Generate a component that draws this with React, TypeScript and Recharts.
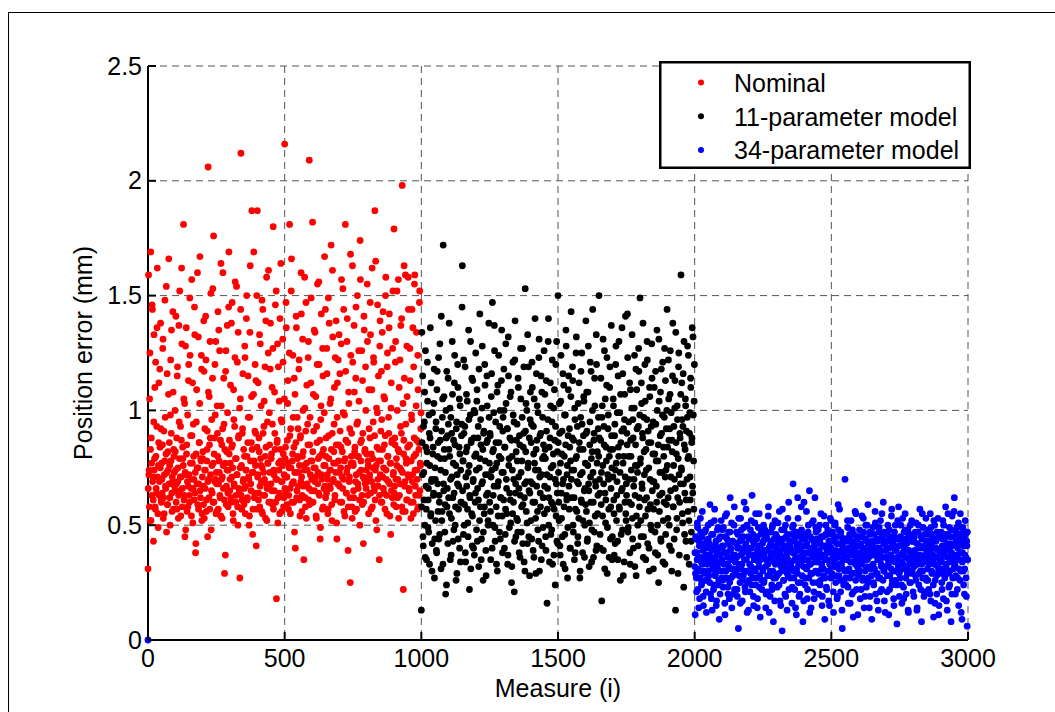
import { CartesianGrid, Label, Legend, Scatter, ScatterChart, XAxis, YAxis } from 'recharts';

const FONT = '"Liberation Sans", Arial, Helvetica, sans-serif';

// measure index step between readings of one list; the "odd" lists sit one measure later
const STEP = 2;
const X_TICKS = [0, 500, 1000, 1500, 2000, 2500, 3000];
const Y_TICKS = [0, 0.5, 1, 1.5, 2, 2.5];

const SERIES_NAMES = ['Nominal', '11-parameter model', '34-parameter model'];
const SERIES_COLORS = ['#ff0000', '#000000', '#0000ff'];
const SERIES_START = [0, 1000, 2000];

// position error (mm); even measures 0..998
const NOMINAL_Y = [
  0.31, 1.59, 0.74, 1.05, 0.52, 1.69, 0.88, 0.63, 1.44, 0.71, 0.43, 1.33, 0.79, 0.58, 1.21, 0.66, 0.93, 1.62, 0.55, 0.76, 1.12, 0.69, 0.84, 1.38, 0.61,
  0.77, 0.64, 1.27, 0.53, 0.91, 0.72, 1.48, 0.67, 0.81, 0.47, 1.16, 0.59, 0.74, 1.66, 0.86, 0.62, 0.98, 0.78, 1.35, 0.56, 0.69, 1.08, 0.83, 0.73, 0.65,
  0.82, 1.41, 0.68, 0.57, 1.19, 0.75, 0.63, 0.95, 1.52, 0.71, 0.54, 0.87, 1.29, 0.66, 0.79, 1.81, 0.61, 1.03, 0.73, 0.48, 1.36, 0.85, 0.69, 0.58, 1.13,
  0.72, 0.6, 1.24, 0.89, 0.66, 1.57, 0.77, 0.51, 0.94, 0.7, 1.45, 0.64, 0.38, 0.81, 1.09, 0.75, 0.59, 1.32, 0.68, 0.86, 1.67, 0.62, 0.78, 1.18, 0.55,
  0.79, 0.67, 1.39, 0.53, 0.92, 0.74, 1.22, 0.61, 0.83, 0.45, 2.06, 0.7, 1.06, 0.57, 0.88, 1.51, 0.65, 0.76, 1.14, 0.6, 1.76, 0.81, 0.69, 0.98, 1.3,
  0.73, 0.56, 0.9, 1.43, 0.68, 0.78, 1.26, 0.62, 0.54, 1.02, 0.85, 0.71, 1.6, 0.66, 0.94, 0.29, 0.77, 1.17, 0.59, 0.82, 1.37, 0.64, 0.74, 1.69, 0.87,
  0.7, 1.11, 0.6, 0.84, 1.47, 0.75, 0.52, 0.96, 0.67, 1.23, 0.79, 0.63, 1.54, 0.72, 0.58, 1.34, 0.89, 0.65, 0.27, 1.05, 2.12, 0.76, 0.61, 0.92, 0.69,
  0.83, 0.66, 1.28, 0.55, 0.74, 1.4, 0.8, 0.62, 1.15, 0.71, 0.5, 0.97, 1.63, 0.68, 0.86, 1.87, 0.73, 0.57, 1.07, 0.78, 0.64, 1.2, 0.9, 0.41, 1.5,
  1.87, 0.72, 0.61, 0.88, 1.33, 0.67, 0.79, 1.02, 0.56, 0.75, 1.44, 0.63, 0.93, 0.7, 1.19, 0.53, 0.84, 1.58, 0.66, 0.77, 1.25, 0.6, 0.99, 0.73, 1.38,
  0.68, 0.81, 1.1, 0.59, 1.8, 0.74, 0.65, 0.9, 1.46, 0.7, 0.18, 0.86, 1.29, 0.62, 0.77, 1.04, 0.55, 0.83, 1.64, 0.69, 0.95, 0.76, 1.21, 0.58, 0.72,
  2.16, 0.79, 0.64, 1.36, 0.71, 0.87, 1.13, 0.57, 0.75, 1.81, 0.66, 0.92, 1.52, 0.6, 0.78, 1.24, 0.69, 0.84, 0.47, 1.07, 0.73, 1.41, 0.62, 0.97, 0.8,
  0.67, 1.18, 0.76, 0.54, 0.89, 1.6, 0.71, 0.63, 1.31, 0.82, 0.35, 0.74, 1.01, 0.58, 1.47, 0.77, 0.68, 0.94, 1.23, 0.61, 2.09, 0.85, 0.72, 1.12, 0.65,
  0.78, 1.82, 0.6, 0.91, 1.35, 0.69, 0.75, 1.06, 0.53, 0.86, 1.55, 0.73, 0.64, 1.2, 0.8, 0.44, 0.96, 1.42, 0.7, 0.57, 1.15, 0.83, 0.66, 1.67, 0.76,
  0.62, 0.88, 1.27, 0.72, 0.55, 1.49, 0.79, 0.67, 1.03, 0.74, 1.72, 0.59, 0.9, 1.32, 0.7, 0.82, 1.1, 0.63, 0.77, 1.39, 0.51, 0.97, 0.68, 1.22, 0.85,
  0.73, 1.16, 0.6, 0.84, 1.57, 0.71, 0.66, 0.99, 1.44, 0.78, 0.54, 1.81, 0.87, 0.64, 1.3, 0.75, 0.39, 1.08, 0.69, 0.92, 0.25, 1.24, 0.8, 0.58, 1.63,
  0.77, 0.65, 1.37, 0.82, 0.56, 1.14, 0.72, 0.94, 1.5, 0.68, 0.8, 1.04, 0.61, 1.74, 0.86, 0.74, 1.26, 0.59, 0.9, 0.42, 1.41, 0.7, 0.83, 1.19, 0.66,
  0.81, 1.55, 0.63, 0.76, 1.09, 0.71, 0.88, 1.33, 0.57, 0.69, 1.62, 0.79, 0.95, 1.21, 0.65, 1.87, 0.74, 0.52, 1.01, 0.84, 1.46, 0.67, 0.78, 0.35, 1.28,
  0.72, 0.91, 1.17, 0.6, 0.83, 1.43, 0.75, 0.64, 1.05, 0.89, 1.58, 0.7, 0.55, 1.25, 0.8, 0.97, 1.36, 0.68, 0.77, 0.46, 1.12, 0.86, 0.62, 1.52, 0.73,
  1.79, 0.67, 0.85, 1.3, 0.58, 0.76, 1.0, 0.7, 1.57, 0.82, 0.63, 1.22, 0.93, 0.74, 1.4, 1.98, 0.56, 0.22, 0.87, 1.14, 0.69, 1.59, 0.79, 0.61, 1.06,
  0.84, 1.58, 0.71, 0.65, 1.27, 0.78, 0.53, 0.98, 1.44, 0.72, 0.6, 1.19, 0.88, 1.59, 0.67, 0.81, 1.34, 0.74, 0.57, 1.09, 0.86, 0.63, 1.52, 0.77, 0.92,
];

// odd measures 1..999
const NOMINAL_Y_ODD = [
  0.66, 0.72, 0.58, 1.25, 0.83, 0.52, 0.77, 1.46, 0.69, 0.61, 0.95, 0.74, 1.1, 0.57, 0.8, 0.64, 1.36, 0.71, 0.49, 0.86, 0.63, 1.18, 0.75, 0.92, 0.6,
  0.7, 0.85, 1.31, 0.62, 0.55, 0.78, 0.97, 0.66, 1.54, 0.73, 0.59, 0.82, 1.07, 0.68, 0.76, 0.5, 1.22, 0.9, 0.64, 0.71, 1.43, 0.57, 0.8, 0.67, 1.0,
  0.74, 0.6, 0.88, 1.15, 0.69, 0.53, 1.37, 0.79, 0.65, 0.93, 0.71, 1.62, 0.58, 0.84, 0.76, 1.05, 0.63, 0.45, 1.28, 0.72, 0.81, 0.56, 0.98, 0.67, 1.2,
  0.63, 1.49, 0.77, 0.7, 0.54, 0.89, 1.12, 0.66, 0.8, 0.61, 1.33, 0.73, 0.42, 0.95, 0.68, 1.6, 0.75, 0.57, 0.86, 1.03, 0.65, 0.79, 1.24, 0.52, 0.71,
  0.82, 0.59, 1.17, 0.74, 0.66, 1.41, 0.56, 0.78, 0.91, 0.69, 1.08, 0.62, 0.85, 1.3, 0.72, 0.48, 0.96, 0.64, 1.53, 0.77, 0.6, 0.88, 1.2, 0.7, 0.55,
  0.68, 1.02, 0.8, 0.57, 1.35, 0.73, 0.63, 0.87, 1.64, 0.7, 0.53, 0.92, 0.76, 1.14, 0.61, 0.83, 0.37, 1.26, 0.67, 0.74, 0.99, 0.58, 1.45, 0.81, 0.65,
  0.77, 0.62, 1.38, 0.71, 0.85, 0.55, 1.09, 0.68, 0.93, 1.56, 0.6, 0.79, 0.72, 1.21, 0.5, 0.88, 0.66, 1.01, 0.75, 1.44, 0.63, 0.57, 0.9, 1.16, 0.7,
  0.59, 0.8, 1.23, 0.67, 0.74, 1.5, 0.61, 0.86, 0.97, 0.7, 0.54, 1.34, 0.78, 0.65, 1.06, 0.83, 0.46, 0.73, 1.69, 0.62, 0.91, 0.76, 1.13, 0.57, 0.84,
  0.71, 1.12, 0.64, 0.82, 0.58, 1.29, 0.76, 0.69, 1.48, 0.55, 0.9, 0.73, 1.04, 0.63, 0.8, 1.39, 0.68, 0.52, 0.95, 0.77, 1.61, 0.66, 0.85, 1.18, 0.6,
  0.79, 0.65, 0.94, 1.27, 0.57, 0.72, 1.08, 0.83, 0.6, 1.52, 0.7, 0.87, 0.51, 1.19, 0.74, 0.64, 1.4, 0.78, 0.96, 0.56, 0.69, 1.31, 0.81, 0.62, 1.05,
  0.66, 0.84, 1.47, 0.71, 0.59, 1.03, 0.77, 0.63, 1.25, 0.89, 0.55, 0.75, 1.66, 0.68, 0.81, 0.97, 0.6, 1.14, 0.73, 0.4, 0.86, 1.36, 0.65, 0.79, 0.92,
  0.73, 1.22, 0.61, 0.88, 0.69, 1.42, 0.56, 0.8, 1.0, 0.67, 0.76, 1.58, 0.62, 0.91, 0.53, 1.11, 0.74, 0.85, 1.3, 0.66, 0.59, 0.97, 0.78, 1.49, 0.7,
  0.6, 0.82, 1.07, 0.75, 0.65, 1.34, 0.71, 0.54, 0.93, 1.2, 0.68, 0.79, 1.56, 0.63, 0.87, 0.49, 1.02, 0.72, 0.81, 1.27, 0.58, 0.76, 0.99, 0.67, 1.44,
  0.8, 0.64, 1.16, 0.7, 0.57, 0.89, 1.38, 0.74, 0.66, 1.05, 0.83, 0.52, 1.61, 0.69, 0.77, 0.94, 0.61, 1.23, 0.73, 0.85, 0.44, 1.12, 0.68, 0.78, 1.33,
  0.67, 0.91, 0.75, 1.29, 0.6, 0.82, 1.53, 0.7, 0.56, 0.98, 0.79, 1.17, 0.64, 0.73, 1.4, 0.86, 0.58, 1.03, 0.71, 0.62, 1.68, 0.77, 0.9, 0.53, 1.21,
  0.76, 0.62, 1.08, 0.84, 0.69, 1.45, 0.57, 0.8, 0.95, 0.66, 1.26, 0.73, 0.5, 1.57, 0.78, 0.87, 0.63, 1.13, 0.71, 0.6, 1.35, 0.82, 0.68, 1.0, 0.74,
  0.69, 1.3, 0.78, 0.55, 0.92, 0.72, 1.47, 0.64, 0.81, 1.09, 0.58, 0.75, 1.23, 0.67, 0.89, 0.61, 1.65, 0.76, 0.48, 0.99, 0.7, 1.15, 0.83, 0.63, 1.39,
  0.78, 0.6, 0.96, 1.34, 0.71, 0.66, 1.06, 0.85, 0.57, 1.5, 0.74, 0.63, 1.19, 0.8, 0.69, 0.9, 1.42, 0.54, 0.77, 1.01, 0.65, 0.87, 1.27, 0.72, 0.59,
  0.64, 0.88, 1.21, 0.7, 0.79, 1.52, 0.62, 0.83, 0.53, 1.1, 0.75, 0.68, 1.37, 0.9, 0.58, 0.73, 1.03, 0.81, 1.63, 0.67, 0.56, 0.94, 0.77, 1.28, 0.61,
  0.72, 1.44, 0.66, 0.85, 1.13, 0.6, 0.78, 0.96, 0.69, 1.36, 0.55, 0.8, 1.55, 0.74, 0.63, 1.02, 0.87, 0.7, 1.24, 0.58, 0.83, 1.47, 0.65, 0.76, 0.99,
];

// even measures 1000..1998
const MODEL11_Y = [
  0.13, 1.34, 0.72, 0.45, 0.93, 0.61, 1.08, 0.36, 0.84, 0.57, 0.77, 1.21, 0.49, 0.66, 0.98, 0.33, 0.88, 0.54, 1.12, 0.7, 0.42, 0.81, 0.63, 1.03, 0.27,
  0.75, 0.52, 0.95, 0.38, 1.17, 0.68, 0.86, 0.44, 0.6, 1.29, 0.79, 0.31, 0.91, 0.56, 1.05, 1.72, 0.65, 0.83, 0.47, 0.73, 1.0, 0.24, 0.58, 0.89, 1.14,
  0.62, 1.38, 0.8, 0.35, 0.97, 0.53, 0.71, 1.07, 0.43, 0.87, 0.64, 1.24, 0.5, 0.76, 0.92, 0.29, 0.68, 1.1, 0.57, 0.84, 0.4, 1.02, 0.74, 0.6, 0.94,
  1.63, 0.78, 0.46, 0.9, 0.59, 1.19, 0.34, 0.82, 0.67, 1.04, 0.51, 0.73, 0.96, 0.22, 0.62, 1.3, 0.86, 0.55, 0.41, 1.13, 0.7, 0.88, 0.37, 0.99, 0.64,
  0.81, 0.48, 1.09, 0.66, 0.93, 0.32, 0.75, 1.42, 0.58, 0.85, 0.44, 1.01, 0.69, 0.26, 0.9, 0.55, 1.2, 0.78, 0.39, 0.63, 1.15, 0.87, 0.52, 0.72, 0.97,
  0.6, 0.89, 0.35, 1.06, 0.74, 1.47, 0.5, 0.83, 0.67, 1.26, 0.43, 0.95, 0.58, 0.77, 0.3, 1.11, 0.69, 0.86, 0.47, 1.0, 0.62, 0.79, 1.35, 0.54, 0.91,
  0.73, 1.18, 0.4, 0.84, 0.57, 1.03, 0.66, 0.92, 0.33, 1.32, 0.76, 0.49, 0.88, 0.61, 1.08, 0.25, 0.8, 0.55, 0.98, 0.7, 0.21, 1.22, 0.64, 0.45, 0.87,
  0.94, 0.52, 1.14, 0.71, 0.38, 0.85, 0.63, 1.05, 0.47, 0.78, 1.27, 0.59, 0.9, 0.34, 0.68, 1.53, 0.82, 0.56, 1.0, 0.42, 0.75, 1.19, 0.65, 0.28, 0.96,
  0.69, 0.86, 0.44, 1.1, 0.6, 0.93, 0.36, 0.77, 1.4, 0.53, 0.83, 0.67, 1.02, 0.48, 0.74, 1.23, 0.3, 0.89, 0.58, 1.15, 0.72, 0.41, 0.97, 0.62, 0.8,
  0.55, 1.07, 0.79, 0.39, 0.91, 0.16, 0.66, 1.3, 0.5, 0.84, 0.71, 1.12, 0.46, 0.6, 0.95, 0.33, 0.76, 1.01, 0.57, 0.87, 0.24, 1.2, 0.68, 0.43, 0.82,
  1.5, 0.73, 0.52, 0.9, 0.37, 1.04, 0.64, 0.81, 0.45, 1.16, 0.7, 0.58, 0.98, 0.31, 0.85, 1.28, 0.61, 0.76, 0.49, 1.09, 0.67, 0.92, 0.4, 0.78, 1.43,
  0.62, 0.88, 1.13, 0.47, 0.74, 0.35, 0.96, 0.57, 1.25, 0.8, 0.69, 0.42, 1.03, 0.53, 0.86, 0.27, 0.72, 1.17, 0.6, 0.94, 0.38, 0.83, 1.06, 0.65, 0.5,
  0.77, 1.39, 0.56, 0.91, 0.44, 1.08, 0.68, 0.32, 0.85, 1.21, 0.6, 0.79, 0.48, 1.0, 0.73, 0.36, 0.9, 1.14, 0.54, 0.67, 1.33, 0.41, 0.82, 0.63, 0.97,
  1.5, 0.7, 0.46, 0.87, 0.59, 0.17, 1.02, 0.76, 0.39, 0.93, 1.26, 0.64, 0.51, 0.84, 1.11, 0.29, 0.72, 0.98, 0.57, 0.8, 1.19, 0.44, 0.66, 0.89, 0.35,
  0.83, 1.05, 0.61, 0.37, 0.94, 0.74, 1.28, 0.52, 0.69, 0.43, 1.15, 0.8, 0.58, 0.99, 0.26, 0.86, 0.65, 1.36, 0.48, 0.77, 0.92, 0.34, 1.07, 0.71, 0.55,
  0.68, 0.9, 1.42, 0.47, 0.8, 0.6, 1.12, 0.33, 0.87, 0.74, 1.01, 0.53, 0.96, 0.4, 0.7, 1.24, 0.63, 0.85, 0.28, 1.09, 0.76, 0.5, 0.93, 1.17, 0.58,
  1.49, 0.79, 0.45, 1.03, 0.66, 0.88, 0.36, 0.97, 0.72, 1.2, 0.54, 0.83, 0.62, 1.3, 0.42, 0.91, 0.75, 0.3, 1.06, 0.59, 0.86, 0.48, 1.14, 0.69, 0.95,
  0.57, 1.1, 0.81, 0.38, 0.94, 0.67, 1.35, 0.5, 0.78, 0.25, 1.04, 0.63, 0.89, 0.44, 1.18, 0.73, 0.98, 0.34, 0.84, 0.6, 1.27, 0.71, 0.46, 0.92, 1.0,
  0.76, 0.53, 1.22, 0.87, 0.41, 1.07, 0.65, 0.99, 0.3, 0.82, 1.38, 0.58, 0.93, 0.7, 1.13, 0.13, 0.86, 0.48, 1.02, 0.62, 0.79, 1.25, 0.37, 0.9, 0.68,
  1.59, 0.74, 0.96, 0.51, 1.16, 0.23, 0.85, 0.64, 1.05, 0.43, 0.91, 0.7, 1.28, 0.56, 0.8, 0.33, 0.99, 0.61, 1.1, 0.47, 0.88, 0.67, 1.32, 0.78, 1.04,
];

// odd measures 1001..1999
const MODEL11_Y_ODD = [
  0.58, 0.86, 1.15, 0.41, 0.73, 0.95, 0.5, 1.26, 0.67, 0.35, 0.82, 1.04, 0.61, 0.47, 0.9, 0.76, 1.36, 0.55, 0.69, 0.3, 0.99, 0.84, 0.64, 1.18, 0.44,
  0.7, 0.92, 0.39, 1.09, 0.8, 0.56, 1.23, 0.63, 0.46, 0.87, 0.74, 1.41, 0.52, 0.97, 0.33, 0.68, 1.06, 0.79, 0.59, 0.2, 0.88, 1.17, 0.66, 0.42, 0.94,
  0.83, 0.55, 1.01, 0.7, 0.37, 0.9, 1.3, 0.62, 0.77, 0.48, 1.12, 0.85, 0.58, 0.26, 0.95, 0.72, 1.2, 0.44, 0.67, 1.05, 0.81, 0.34, 0.6, 0.89, 1.45,
  0.65, 0.78, 1.22, 0.5, 0.93, 0.38, 0.71, 1.07, 0.84, 0.57, 0.45, 1.35, 0.76, 0.63, 0.98, 0.31, 0.87, 1.14, 0.54, 0.69, 0.4, 1.0, 0.8, 0.6, 1.25,
  0.74, 1.04, 0.43, 0.88, 0.61, 1.18, 0.52, 0.79, 0.96, 0.35, 0.68, 1.28, 0.83, 0.47, 0.91, 0.58, 1.11, 0.72, 0.28, 0.86, 1.02, 0.64, 0.5, 1.38, 0.77,
  0.9, 0.56, 0.71, 1.16, 0.4, 0.82, 0.63, 0.99, 1.37, 0.49, 0.75, 0.86, 0.33, 1.08, 0.67, 0.54, 1.24, 0.8, 0.93, 0.44, 0.62, 1.13, 0.73, 0.38, 0.97,
  0.61, 1.0, 0.84, 0.46, 1.29, 0.7, 0.55, 0.92, 0.37, 1.15, 0.79, 0.64, 1.06, 0.51, 0.87, 0.32, 0.74, 1.21, 0.6, 0.95, 0.43, 1.39, 0.68, 0.82, 0.53,
  0.78, 0.47, 1.1, 0.66, 0.89, 0.36, 1.27, 0.73, 0.58, 0.97, 0.42, 0.84, 1.19, 0.62, 0.3, 0.91, 1.03, 0.69, 0.51, 1.33, 0.77, 0.45, 0.88, 0.64, 1.08,
  0.52, 0.94, 1.21, 0.68, 0.39, 0.81, 1.05, 0.6, 0.74, 0.29, 1.16, 0.87, 0.56, 0.99, 0.43, 1.31, 0.71, 0.64, 0.9, 0.35, 1.08, 0.79, 0.49, 0.85, 1.26,
  0.67, 0.83, 0.45, 1.13, 0.72, 0.57, 0.96, 1.4, 0.62, 0.34, 0.88, 1.02, 0.75, 0.48, 1.22, 0.59, 0.81, 0.37, 1.09, 0.7, 0.93, 0.54, 1.3, 0.64, 0.42,
  0.86, 0.6, 1.03, 0.41, 0.77, 1.24, 0.53, 0.91, 0.68, 0.33, 1.11, 0.8, 0.46, 0.98, 1.35, 0.63, 0.72, 0.27, 0.89, 1.15, 0.57, 0.84, 0.4, 1.06, 0.7,
  0.74, 1.19, 0.5, 0.87, 0.62, 1.01, 0.38, 0.79, 1.32, 0.56, 0.93, 0.45, 0.68, 1.12, 0.83, 0.3, 0.97, 0.61, 1.25, 0.73, 0.52, 0.89, 1.04, 0.36, 0.66,
  0.59, 0.9, 1.08, 0.43, 0.76, 1.28, 0.65, 0.51, 0.95, 0.71, 1.17, 0.34, 0.82, 1.44, 0.6, 0.87, 0.47, 1.02, 0.69, 0.39, 1.2, 0.77, 0.55, 0.92, 0.8,
  0.88, 0.64, 0.4, 1.14, 0.73, 0.97, 0.54, 1.31, 0.68, 0.85, 0.31, 1.05, 0.61, 0.78, 1.23, 0.49, 0.92, 0.7, 0.36, 1.1, 0.83, 0.58, 1.37, 0.75, 0.45,
  0.71, 1.02, 0.55, 0.89, 0.42, 1.2, 0.77, 0.63, 0.99, 0.35, 0.84, 1.3, 0.57, 0.73, 1.07, 0.46, 0.91, 0.66, 1.16, 0.28, 0.8, 0.96, 0.6, 1.41, 0.52,
  0.63, 0.85, 1.23, 0.49, 0.95, 0.7, 0.38, 1.09, 0.8, 0.59, 1.33, 0.44, 0.88, 0.67, 1.01, 0.32, 0.76, 1.18, 0.54, 0.92, 0.73, 0.41, 1.27, 0.62, 0.98,
  0.77, 0.52, 1.12, 0.68, 0.9, 1.38, 0.45, 0.82, 0.61, 1.04, 0.35, 0.74, 0.96, 1.22, 0.57, 0.86, 0.4, 1.1, 0.7, 0.5, 0.93, 1.29, 0.65, 0.81, 0.31,
  0.69, 0.94, 0.47, 1.17, 0.78, 0.6, 1.0, 0.37, 0.85, 1.31, 0.56, 0.73, 1.08, 0.43, 0.9, 0.64, 1.21, 0.52, 0.8, 0.97, 0.33, 1.13, 0.74, 0.59, 1.44,
  0.84, 0.62, 1.05, 0.5, 0.92, 1.26, 0.71, 0.39, 0.87, 1.15, 0.58, 0.76, 0.44, 1.01, 0.66, 1.34, 0.81, 0.53, 0.96, 0.29, 1.19, 0.72, 0.6, 0.88, 1.07,
  0.75, 1.12, 0.55, 0.93, 0.68, 1.3, 0.46, 0.83, 1.02, 0.61, 0.36, 0.97, 0.79, 1.24, 0.52, 0.9, 0.71, 1.14, 0.43, 0.86, 1.36, 0.64, 0.98, 0.57, 1.2,
];

// even measures 2000..2998
const MODEL34_Y = [
  0.32, 0.11, 0.45, 0.27, 0.38, 0.51, 0.22, 0.36, 0.43, 0.18, 0.3, 0.47, 0.34, 0.25, 0.56, 0.39, 0.15, 0.42, 0.29, 0.35, 0.48, 0.21, 0.4, 0.33, 0.26,
  0.44, 0.28, 0.37, 0.59, 0.2, 0.34, 0.46, 0.13, 0.31, 0.41, 0.24, 0.52, 0.36, 0.29, 0.43, 0.17, 0.39, 0.33, 0.49, 0.26, 0.09, 0.37, 0.45, 0.3, 0.4,
  0.35, 0.48, 0.23, 0.41, 0.3, 0.16, 0.54, 0.38, 0.27, 0.44, 0.33, 0.2, 0.47, 0.36, 0.25, 0.62, 0.4, 0.31, 0.14, 0.43, 0.28, 0.37, 0.5, 0.22, 0.34,
  0.29, 0.42, 0.36, 0.19, 0.46, 0.05, 0.33, 0.4, 0.25, 0.53, 0.31, 0.44, 0.17, 0.38, 0.28, 0.49, 0.35, 0.23, 0.41, 0.57, 0.3, 0.12, 0.39, 0.45, 0.26,
  0.37, 0.21, 0.48, 0.32, 0.4, 0.63, 0.27, 0.43, 0.15, 0.35, 0.51, 0.3, 0.24, 0.45, 0.38, 0.18, 0.41, 0.34, 0.55, 0.28, 0.1, 0.46, 0.36, 0.22, 0.42,
  0.31, 0.5, 0.26, 0.39, 0.44, 0.14, 0.35, 0.47, 0.21, 0.33, 0.58, 0.4, 0.28, 0.19, 0.43, 0.37, 0.24, 0.49, 0.3, 0.08, 0.41, 0.34, 0.52, 0.27, 0.38,
  0.45, 0.23, 0.36, 0.42, 0.29, 0.56, 0.17, 0.39, 0.32, 0.48, 0.04, 0.35, 0.44, 0.26, 0.4, 0.2, 0.5, 0.31, 0.37, 0.13, 0.46, 0.28, 0.6, 0.34, 0.41,
  0.27, 0.43, 0.34, 0.16, 0.49, 0.68, 0.3, 0.38, 0.22, 0.45, 0.36, 0.11, 0.41, 0.29, 0.53, 0.33, 0.19, 0.47, 0.39, 0.25, 0.58, 0.35, 0.44, 0.08, 0.32,
  0.6, 0.38, 0.24, 0.46, 0.31, 0.42, 0.18, 0.35, 0.5, 0.27, 0.65, 0.4, 0.33, 0.14, 0.44, 0.29, 0.37, 0.52, 0.21, 0.41, 0.62, 0.3, 0.47, 0.36, 0.25,
  0.34, 0.48, 0.2, 0.39, 0.43, 0.26, 0.55, 0.31, 0.15, 0.37, 0.45, 0.28, 0.41, 0.09, 0.35, 0.5, 0.23, 0.38, 0.46, 0.3, 0.17, 0.42, 0.33, 0.53, 0.27,
  0.4, 0.29, 0.47, 0.35, 0.12, 0.44, 0.32, 0.51, 0.25, 0.38, 0.42, 0.19, 0.36, 0.48, 0.28, 0.57, 0.33, 0.21, 0.45, 0.39, 0.05, 0.31, 0.43, 0.26, 0.37,
  0.7, 0.36, 0.24, 0.43, 0.3, 0.49, 0.16, 0.39, 0.45, 0.27, 0.34, 0.52, 0.41, 0.2, 0.37, 0.1, 0.46, 0.29, 0.4, 0.33, 0.55, 0.22, 0.44, 0.35, 0.31,
  0.28, 0.45, 0.38, 0.18, 0.42, 0.33, 0.54, 0.26, 0.4, 0.47, 0.14, 0.36, 0.3, 0.5, 0.23, 0.43, 0.35, 0.59, 0.27, 0.39, 0.46, 0.19, 0.32, 0.41, 0.09,
  0.37, 0.49, 0.25, 0.43, 0.31, 0.56, 0.2, 0.38, 0.44, 0.29, 0.35, 0.13, 0.47, 0.4, 0.27, 0.52, 0.33, 0.22, 0.45, 0.36, 0.6, 0.3, 0.17, 0.42, 0.39,
  0.32, 0.46, 0.21, 0.4, 0.35, 0.11, 0.48, 0.28, 0.43, 0.37, 0.54, 0.24, 0.41, 0.3, 0.18, 0.45, 0.34, 0.5, 0.26, 0.39, 0.07, 0.44, 0.36, 0.58, 0.29,
  0.41, 0.27, 0.5, 0.34, 0.16, 0.44, 0.38, 0.23, 0.47, 0.31, 0.55, 0.36, 0.2, 0.42, 0.29, 0.48, 0.12, 0.39, 0.33, 0.46, 0.25, 0.37, 0.52, 0.3, 0.43,
  0.35, 0.19, 0.45, 0.38, 0.28, 0.51, 0.42, 0.14, 0.33, 0.47, 0.24, 0.4, 0.57, 0.3, 0.36, 0.08, 0.44, 0.27, 0.49, 0.34, 0.21, 0.41, 0.37, 0.53, 0.26,
  0.43, 0.31, 0.48, 0.22, 0.39, 0.35, 0.55, 0.17, 0.42, 0.29, 0.46, 0.37, 0.1, 0.33, 0.5, 0.26, 0.4, 0.44, 0.2, 0.36, 0.53, 0.3, 0.15, 0.45, 0.38,
  0.34, 0.47, 0.25, 0.41, 0.52, 0.18, 0.37, 0.44, 0.29, 0.58, 0.32, 0.4, 0.13, 0.46, 0.36, 0.23, 0.49, 0.3, 0.42, 0.08, 0.38, 0.54, 0.27, 0.35, 0.45,
  0.62, 0.33, 0.2, 0.43, 0.37, 0.49, 0.27, 0.4, 0.15, 0.46, 0.35, 0.55, 0.3, 0.42, 0.09, 0.38, 0.48, 0.24, 0.44, 0.31, 0.52, 0.36, 0.19, 0.41, 0.47,
];

// odd measures 2001..2999
const MODEL34_Y_ODD = [
  0.38, 0.29, 0.44, 0.21, 0.35, 0.49, 0.31, 0.14, 0.41, 0.27, 0.53, 0.36, 0.24, 0.45, 0.33, 0.19, 0.4, 0.3, 0.47, 0.26, 0.37, 0.12, 0.43, 0.34, 0.5,
  0.3, 0.42, 0.25, 0.36, 0.51, 0.18, 0.39, 0.33, 0.46, 0.22, 0.35, 0.57, 0.28, 0.41, 0.15, 0.37, 0.48, 0.31, 0.24, 0.44, 0.34, 0.2, 0.4, 0.52, 0.27,
  0.41, 0.26, 0.49, 0.33, 0.38, 0.11, 0.45, 0.3, 0.55, 0.36, 0.23, 0.42, 0.32, 0.18, 0.47, 0.39, 0.27, 0.51, 0.35, 0.43, 0.2, 0.31, 0.58, 0.37, 0.29,
  0.36, 0.47, 0.22, 0.4, 0.31, 0.53, 0.28, 0.43, 0.16, 0.37, 0.48, 0.33, 0.26, 0.45, 0.39, 0.6, 0.3, 0.21, 0.42, 0.35, 0.5, 0.25, 0.38, 0.13, 0.44,
  0.33, 0.4, 0.29, 0.52, 0.24, 0.37, 0.46, 0.19, 0.42, 0.31, 0.36, 0.55, 0.27, 0.44, 0.14, 0.39, 0.49, 0.32, 0.23, 0.41, 0.35, 0.48, 0.26, 0.38, 0.3,
  0.43, 0.25, 0.37, 0.48, 0.32, 0.2, 0.45, 0.39, 0.28, 0.54, 0.34, 0.12, 0.41, 0.3, 0.47, 0.36, 0.22, 0.5, 0.38, 0.27, 0.44, 0.17, 0.33, 0.46, 0.4,
  0.28, 0.39, 0.51, 0.34, 0.24, 0.44, 0.37, 0.15, 0.42, 0.3, 0.57, 0.36, 0.26, 0.48, 0.33, 0.41, 0.19, 0.45, 0.38, 0.29, 0.53, 0.35, 0.22, 0.43, 0.31,
  0.4, 0.32, 0.46, 0.23, 0.38, 0.5, 0.27, 0.43, 0.35, 0.14, 0.47, 0.31, 0.39, 0.62, 0.25, 0.42, 0.36, 0.2, 0.45, 0.33, 0.48, 0.28, 0.41, 0.37, 0.17,
  0.35, 0.44, 0.27, 0.41, 0.56, 0.31, 0.22, 0.47, 0.38, 0.33, 0.12, 0.45, 0.29, 0.4, 0.51, 0.36, 0.25, 0.43, 0.18, 0.39, 0.34, 0.49, 0.3, 0.44, 0.37,
  0.42, 0.29, 0.38, 0.5, 0.24, 0.36, 0.45, 0.33, 0.19, 0.41, 0.31, 0.54, 0.37, 0.27, 0.46, 0.4, 0.22, 0.35, 0.48, 0.3, 0.43, 0.15, 0.39, 0.34, 0.52,
  0.32, 0.46, 0.37, 0.21, 0.43, 0.34, 0.5, 0.28, 0.39, 0.45, 0.18, 0.36, 0.59, 0.31, 0.42, 0.26, 0.38, 0.47, 0.33, 0.13, 0.41, 0.35, 0.24, 0.44, 0.3,
  0.39, 0.27, 0.44, 0.35, 0.52, 0.23, 0.4, 0.31, 0.46, 0.16, 0.37, 0.43, 0.29, 0.48, 0.34, 0.21, 0.42, 0.38, 0.56, 0.26, 0.36, 0.45, 0.32, 0.11, 0.41,
  0.34, 0.48, 0.3, 0.41, 0.22, 0.37, 0.45, 0.27, 0.53, 0.35, 0.4, 0.19, 0.44, 0.32, 0.38, 0.5, 0.25, 0.42, 0.36, 0.14, 0.47, 0.31, 0.39, 0.28, 0.43,
  0.41, 0.33, 0.24, 0.46, 0.37, 0.51, 0.29, 0.4, 0.17, 0.43, 0.35, 0.27, 0.49, 0.38, 0.21, 0.44, 0.32, 0.55, 0.36, 0.26, 0.42, 0.3, 0.47, 0.12, 0.39,
  0.36, 0.43, 0.28, 0.5, 0.33, 0.4, 0.22, 0.45, 0.37, 0.31, 0.57, 0.26, 0.42, 0.35, 0.15, 0.47, 0.39, 0.3, 0.44, 0.24, 0.36, 0.52, 0.32, 0.41, 0.19,
  0.3, 0.45, 0.37, 0.24, 0.42, 0.53, 0.33, 0.18, 0.4, 0.36, 0.48, 0.27, 0.44, 0.31, 0.39, 0.13, 0.46, 0.35, 0.25, 0.5, 0.38, 0.29, 0.43, 0.34, 0.21,
  0.44, 0.32, 0.39, 0.47, 0.26, 0.36, 0.13, 0.42, 0.34, 0.5, 0.29, 0.41, 0.37, 0.22, 0.45, 0.33, 0.55, 0.3, 0.4, 0.19, 0.46, 0.35, 0.27, 0.43, 0.38,
  0.37, 0.26, 0.46, 0.33, 0.41, 0.2, 0.38, 0.49, 0.3, 0.44, 0.35, 0.24, 0.52, 0.4, 0.16, 0.36, 0.43, 0.28, 0.47, 0.32, 0.39, 0.11, 0.45, 0.34, 0.29,
  0.4, 0.35, 0.22, 0.44, 0.31, 0.5, 0.38, 0.27, 0.46, 0.33, 0.17, 0.42, 0.36, 0.55, 0.29, 0.39, 0.24, 0.45, 0.34, 0.48, 0.2, 0.41, 0.37, 0.31, 0.56,
  0.33, 0.42, 0.28, 0.47, 0.36, 0.22, 0.4, 0.51, 0.31, 0.44, 0.26, 0.38, 0.12, 0.45, 0.34, 0.49, 0.3, 0.41, 0.2, 0.37, 0.46, 0.27, 0.43, 0.06, 0.35,
];

// the stray blue reading sitting on the origin
const MODEL34_EXTRA_X = [0];
const MODEL34_EXTRA_Y = [0];

const toPoints = (ys: number[], start: number) => ys.map((y, i) => ({ x: start + i * STEP, y }));

const SERIES = [
  [...toPoints(NOMINAL_Y, SERIES_START[0]), ...toPoints(NOMINAL_Y_ODD, SERIES_START[0] + 1)],
  [...toPoints(MODEL11_Y, SERIES_START[1]), ...toPoints(MODEL11_Y_ODD, SERIES_START[1] + 1)],
  [
    ...toPoints(MODEL34_Y, SERIES_START[2]),
    ...toPoints(MODEL34_Y_ODD, SERIES_START[2] + 1),
    ...MODEL34_EXTRA_X.map((x, i) => ({ x, y: MODEL34_EXTRA_Y[i] })),
  ],
];

const dot = (color: string) => (p: any) => <circle cx={p.cx} cy={p.cy} r={3.4} fill={color} />;

function BottomTick({ x, y, payload }: any) {
  return (
    <g>
      <line x1={x} x2={x} y1={y} y2={y - 8} stroke="#000" strokeWidth={2} />
      <text x={x} y={y + 27} textAnchor="middle" fontSize={25} fontFamily={FONT} fill="#000">
        {payload.value}
      </text>
    </g>
  );
}

function LeftTick({ x, y, payload }: any) {
  return (
    <g>
      <line x1={x} x2={x + 8} y1={y} y2={y} stroke="#000" strokeWidth={2} />
      <text x={x - 6} y={y + 8.5} textAnchor="end" fontSize={25} fontFamily={FONT} fill="#000">
        {payload.value}
      </text>
    </g>
  );
}

function TopTick({ x, y }: any) {
  return <line x1={x} x2={x} y1={y} y2={y + 7} stroke="#000" strokeWidth={1.5} />;
}

function RightTick({ x, y }: any) {
  return <line x1={x} x2={x - 7} y1={y} y2={y} stroke="#000" strokeWidth={1.5} />;
}

function LegendBox() {
  return (
    <svg width={312} height={108} style={{ display: 'block' }}>
      <rect x={1.25} y={1.25} width={309.5} height={105.5} fill="#fff" stroke="#000" strokeWidth={2.5} />
      {SERIES_NAMES.map((name, i) => (
        <g key={name}>
          <circle cx={42} cy={21.5 + i * 33.8} r={3} fill={SERIES_COLORS[i]} />
          <text x={75} y={30.7 + i * 33.8} fontSize={25} fontFamily={FONT} fill="#000">
            {name}
          </text>
        </g>
      ))}
    </svg>
  );
}

export default function App() {
  return (
    <div
      style={{
        position: 'absolute',
        left: 0,
        top: 0,
        width: 1055,
        height: 712,
        background: '#fff',
        overflow: 'hidden',
        fontFamily: FONT,
      }}
    >
      <div
        style={{
          position: 'absolute',
          left: 8,
          top: 12,
          width: 1100,
          height: 800,
          border: '1.5px solid #000',
          boxSizing: 'border-box',
        }}
      />
      <ScatterChart width={1055} height={712} margin={{ top: 66, right: 87, bottom: 0, left: 0 }}>
        <CartesianGrid stroke="#555" strokeDasharray="7 5" strokeWidth={1} />
        <XAxis
          type="number"
          dataKey="x"
          domain={[0, 3000]}
          ticks={X_TICKS}
          height={72}
          tickSize={0}
          tickMargin={0}
          tickLine={false}
          tick={<BottomTick />}
          axisLine={{ stroke: '#000', strokeWidth: 2 }}
          interval={0}
        >
          <Label
            content={({ viewBox }: any) => (
              <text
                x={viewBox.x + viewBox.width / 2}
                y={viewBox.y + 57}
                textAnchor="middle"
                fontSize={25}
                fontFamily={FONT}
                fill="#000"
              >
                Measure (i)
              </text>
            )}
          />
        </XAxis>
        <XAxis
          xAxisId="top"
          orientation="top"
          type="number"
          domain={[0, 3000]}
          ticks={X_TICKS}
          height={0}
          tickSize={0}
          tickMargin={0}
          tickLine={false}
          axisLine={false}
          tick={<TopTick />}
          interval={0}
        />
        <YAxis
          type="number"
          dataKey="y"
          domain={[0, 2.5]}
          ticks={Y_TICKS}
          width={148}
          tickSize={0}
          tickMargin={0}
          tickLine={false}
          tick={<LeftTick />}
          axisLine={{ stroke: '#000', strokeWidth: 2 }}
          interval={0}
        >
          <Label
            content={({ viewBox }: any) => {
              const cx = 92;
              const cy = viewBox.y + viewBox.height / 2;
              return (
                <text
                  x={cx}
                  y={cy}
                  transform={`rotate(-90 ${cx} ${cy})`}
                  textAnchor="middle"
                  fontSize={25}
                  fontFamily={FONT}
                  fill="#000"
                >
                  Position error (mm)
                </text>
              );
            }}
          />
        </YAxis>
        <YAxis
          yAxisId="right"
          orientation="right"
          type="number"
          domain={[0, 2.5]}
          ticks={Y_TICKS}
          width={0}
          tickSize={0}
          tickMargin={0}
          tickLine={false}
          axisLine={false}
          tick={<RightTick />}
          interval={0}
        />
        {SERIES.map((pts, i) => (
          <Scatter
            key={SERIES_NAMES[i]}
            name={SERIES_NAMES[i]}
            data={pts}
            fill={SERIES_COLORS[i]}
            shape={dot(SERIES_COLORS[i])}
            isAnimationActive={false}
          />
        ))}
        <Legend
          layout="horizontal"
          verticalAlign="middle"
          align="center"
          content={() => <LegendBox />}
          wrapperStyle={{ left: 659, top: 61, width: 312, height: 108 }}
        />
      </ScatterChart>
    </div>
  );
}
